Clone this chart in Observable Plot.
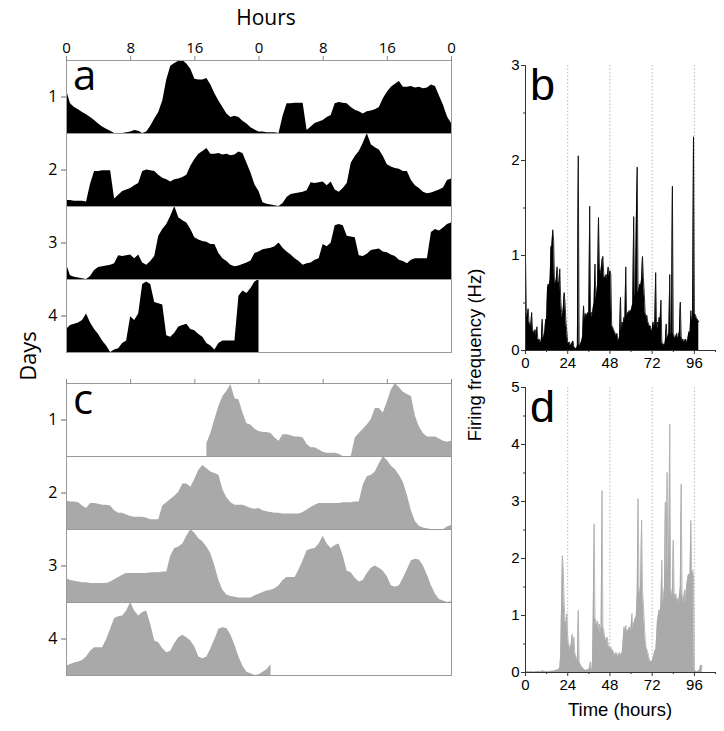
<!DOCTYPE html>
<html><head><meta charset="utf-8">
<script src="https://cdn.jsdelivr.net/npm/d3@7"></script>
<script src="https://cdn.jsdelivr.net/npm/@observablehq/plot@0.6"></script>
<style>
body{margin:0;background:#fff;}
#page{position:relative;width:724px;height:731px;overflow:hidden;background:#fff;}
.panel{position:absolute;}
</style></head><body>
<div id="page">
<div id="pa" class="panel" style="left:0;top:0"></div>
<div id="pc" class="panel" style="left:0;top:323px"></div>
<div id="pb" class="panel" style="left:460px;top:0"></div>
<div id="pd" class="panel" style="left:460px;top:360px"></div>
<svg width="724" height="731" style="position:absolute;left:0;top:0;pointer-events:none">
  <text x="266" y="25" text-anchor="middle" font-family="Open Sans" font-size="21">Hours</text>
  <text transform="translate(36,356) rotate(-90)" text-anchor="middle" font-family="Open Sans" font-size="22">Days</text>
  <text x="73" y="90" font-family="Open Sans" font-size="42">a</text>
  <text x="73" y="414" font-family="Open Sans" font-size="42">c</text>
  <text x="530" y="100" font-family="Liberation Sans, Arial, sans-serif" font-size="45">b</text>
  <text x="530" y="422" font-family="Liberation Sans, Arial, sans-serif" font-size="45">d</text>
  <text transform="translate(481,355) rotate(-90)" text-anchor="middle" font-family="Liberation Sans, Arial, sans-serif" font-size="18.5">Firing frequency (Hz)</text>
  <text x="620" y="716" text-anchor="middle" font-family="Liberation Sans, Arial, sans-serif" font-size="18.5">Time (hours)</text>
</svg>
</div>
<script>
// ---------- data (half-hour samples) ----------
const STEP = 0.5;
// panel a: smoothed activity, days 1-4 (arbitrary units)
const aDay1 = [0.66,0.47,0.42,0.39,0.35,0.32,0.28,0.24,0.19,0.15,0.12,0.09,
               0.06,0.06,0.06,0.07,0.08,0.10,0.09,0.06,0.08,0.16,0.26,0.35,
               0.51,0.80,0.99,1.03,1.06,1.07,1.02,0.95,0.81,0.80,0.80,0.82,
               0.73,0.61,0.51,0.42,0.33,0.28,0.30,0.28,0.23,0.19,0.14,0.11];
const aDay2 = [0.08,0.08,0.07,0.07,0.07,0.06,0.30,0.47,0.47,0.48,0.48,0.48,
               0.10,0.15,0.20,0.22,0.24,0.28,0.31,0.47,0.49,0.48,0.47,0.42,
               0.38,0.36,0.33,0.36,0.37,0.39,0.42,0.54,0.63,0.70,0.74,0.78,
               0.70,0.70,0.71,0.69,0.70,0.68,0.69,0.73,0.71,0.58,0.45,0.29];
const aDay3 = [0.20,0.05,0.03,0.02,0.01,0.00,0.04,0.12,0.16,0.17,0.18,0.19,
               0.21,0.32,0.31,0.32,0.33,0.28,0.33,0.22,0.19,0.24,0.31,0.58,
               0.67,0.74,0.85,0.98,0.83,0.79,0.76,0.67,0.56,0.53,0.51,0.50,
               0.47,0.47,0.35,0.28,0.24,0.19,0.17,0.18,0.20,0.22,0.25,0.35];
const aDay4 = [0.37,0.40,0.41,0.42,0.44,0.49,0.42,0.37,0.33,0.28,0.24,0.19,
               0.21,0.22,0.26,0.28,0.47,0.44,0.49,0.72,0.74,0.72,0.58,0.57,
               0.56,0.32,0.31,0.34,0.39,0.40,0.41,0.37,0.36,0.33,0.31,0.26,
               0.24,0.21,0.26,0.28,0.28,0.28,0.28,0.63,0.67,0.65,0.69,0.74,0.76];
// panel c: smoothed activity, starting at hour 17.5
const cStartHour = 17.5;
const cDay1 = [0.31,0.40,0.53,0.65,0.74,0.79,0.85,0.72,0.71,0.59,0.49,0.48,0.44];
const cDay2 = [0.42,0.41,0.41,0.40,0.36,0.33,0.39,0.39,0.38,0.37,0.37,0.36,
               0.30,0.27,0.27,0.25,0.23,0.22,0.22,0.22,0.21,0.19,0.19,0.19,
               0.36,0.40,0.44,0.48,0.53,0.63,0.63,0.59,0.69,0.80,0.86,0.82,
               0.78,0.76,0.74,0.56,0.46,0.40,0.37,0.37,0.37,0.35,0.33,0.32];
const cDay3 = [0.33,0.30,0.29,0.28,0.27,0.27,0.26,0.26,0.26,0.26,0.26,0.28,
               0.31,0.34,0.37,0.39,0.39,0.39,0.39,0.39,0.39,0.40,0.40,0.40,
               0.41,0.41,0.62,0.72,0.74,0.78,0.88,0.97,0.92,0.85,0.81,0.74,
               0.65,0.49,0.30,0.17,0.11,0.09,0.08,0.07,0.07,0.07,0.07,0.10];
const cDay4 = [0.12,0.14,0.16,0.17,0.19,0.23,0.30,0.34,0.34,0.34,0.44,0.56,
               0.69,0.71,0.72,0.78,0.88,0.78,0.72,0.76,0.78,0.62,0.42,0.40,
               0.33,0.28,0.30,0.39,0.46,0.49,0.46,0.42,0.35,0.23,0.21,0.23,
               0.33,0.44,0.56,0.58,0.57,0.49,0.37,0.23,0.12,0.05,0.03,0.01];
const cDay5 = [0.02,0.05,0.08,0.14];
// panel b: firing frequency (Hz), from hour 0
const bDay1 = [0.97,0.40,0.35,0.44,0.30,0.28,0.25,0.40,0.22,0.20,0.18,0.22,
               0.15,0.25,0.12,0.10,0.12,0.08,0.10,0.33,0.12,0.15,0.20,0.33,
               0.30,0.65,0.70,0.68,0.75,1.09,1.10,1.27,1.16,0.72,0.70,0.75,
               0.88,0.72,0.70,0.86,0.55,0.40,0.35,0.45,0.61,0.50,0.30,0.20];
const bDay2 = [0.08,0.07,0.09,0.05,0.06,0.08,0.10,0.04,0.03,0.02,0.02,0.05,
               2.05,0.06,0.05,0.08,0.10,0.15,0.47,0.30,0.39,0.35,0.38,0.40,
               0.36,1.52,0.38,0.40,0.35,0.45,0.50,0.91,0.53,0.60,0.70,1.40,
               0.91,0.85,0.80,0.95,0.99,0.80,0.75,0.78,0.80,0.75,0.88,0.78];
const bDay3 = [0.84,0.80,0.26,0.25,0.22,0.20,0.18,0.15,0.18,0.12,0.10,0.15,
               0.56,0.20,0.30,0.25,0.35,0.30,0.88,0.35,0.40,0.38,0.42,0.40,
               0.42,0.45,0.50,1.41,0.55,0.60,1.37,1.93,0.60,0.65,0.70,0.68,
               0.75,0.99,0.77,0.60,0.40,0.35,0.37,0.30,0.28,0.25,0.26,0.22];
const bDay4 = [0.20,0.30,0.25,0.28,0.82,0.25,0.30,0.22,0.35,0.30,0.53,0.10,
               0.05,0.07,0.04,0.10,0.28,0.12,0.15,0.18,0.80,0.15,0.20,1.73,
               0.18,0.15,0.12,0.15,0.18,0.12,0.15,0.20,0.51,0.15,0.10,0.12,
               0.08,0.10,0.12,0.10,0.08,0.15,0.20,0.15,0.42,0.30,0.35,2.25];
const bDay5 = [0.39,0.38,0.35,0.33,0.32,0.30];
// panel d: firing frequency (Hz), from hour 0
const dDay1 = [0.01,0.01,0.02,0.01,0.01,0.01,0.02,0.01,0.01,0.01,0.01,0.02,
               0.01,0.01,0.02,0.02,0.01,0.01,0.02,0.02,0.03,0.02,0.02,0.01,
               0.02,0.01,0.01,0.02,0.02,0.01,0.03,0.02,0.02,0.03,0.03,0.04,
               0.04,0.05,0.06,0.08,0.30,1.20,2.05,1.78,1.21,0.90,0.85,1.03];
const dDay2 = [0.60,0.51,0.45,0.40,0.50,0.67,0.45,0.62,0.35,0.30,0.25,0.20,
               1.09,0.20,0.15,0.12,0.10,0.08,0.06,0.05,0.04,0.03,0.05,0.04,
               0.05,0.10,0.19,0.05,0.04,1.00,2.61,0.95,0.92,0.80,0.90,0.75,
               0.85,0.70,0.80,3.19,0.80,0.75,0.62,0.60,0.55,0.62,0.50,0.45];
const dDay3 = [0.40,0.45,0.38,0.40,0.35,0.33,0.30,0.35,0.33,0.28,0.30,0.35,
               0.30,0.32,0.35,0.55,0.80,0.70,0.83,0.70,0.75,0.72,0.80,0.75,
               0.78,1.03,0.75,0.85,0.90,0.95,1.00,1.40,3.05,1.50,1.30,1.60,
               2.67,1.50,1.20,0.90,0.60,0.45,0.40,0.35,0.28,0.22,0.19,0.18];
const dDay4 = [0.20,0.25,0.30,0.39,0.35,0.60,0.90,1.00,1.10,1.03,1.20,1.97,
               1.20,1.30,1.50,2.99,1.60,3.51,1.73,2.30,4.36,1.50,1.40,1.35,
               2.32,1.40,1.30,1.38,1.25,1.30,1.20,1.35,1.50,3.31,1.40,1.20,
               1.30,1.45,1.20,1.50,1.60,1.70,1.73,1.65,2.67,1.75,1.79,1.70];
const dDay5 = [0.05,0.02,0.02,0.01,0.02,0.03,0.05,0.12,0.13,0.10];

const actoTicks = [0,8,16,24,32,40,48];
const dayLines = [24,48,72,96];
const timeTicks = [0,24,48,72,96];
const timeMinorTicks = [12,36,60,84,108];
const rowIds = [1,2,3,4];

// ---------- helpers ----------
function series(values, start) {
  return values.map((v, i) => ({t: start + i * STEP, v}));
}
// double-plotted actogram: row r shows hours (r-1)*24 .. (r-1)*24+48, min-max scaled per row
function actogram(pts) {
  const out = [];
  for (const r of rowIds) {
    const t0 = (r - 1) * 24, t1 = t0 + 48;
    const inRow = pts.filter(p => p.t >= t0 - 1e-9 && p.t <= t1 + 1e-9);
    if (!inRow.length) continue;
    const lo = d3.min(inRow, p => p.v), hi = d3.max(inRow, p => p.v);
    for (const p of inRow) out.push({row: r, h: p.t - t0, y: (p.v - lo) / (hi - lo)});
  }
  return out;
}
const aRows = actogram(series([...aDay1, ...aDay2, ...aDay3, ...aDay4], 0));
const cRows = actogram(series([...cDay1, ...cDay2, ...cDay3, ...cDay4, ...cDay5], cStartHour));
const bSeries = series([...bDay1, ...bDay2, ...bDay3, ...bDay4, ...bDay5], 0);
const dSeries = series([...dDay1, ...dDay2, ...dDay3, ...dDay4, ...dDay5], 0);

function actoPlot(rows, fill, labels) {
  return Plot.plot({
    width: 470, height: 360,
    marginLeft: 66, marginRight: 19, marginTop: 60, marginBottom: 8,
    style: {fontFamily: "Open Sans", fontSize: "15px", background: "transparent", color: "black"},
    x: {domain: [0, 48], axis: null},
    y: {domain: [0, 1], axis: null},
    fy: {domain: rowIds, padding: 0, axis: null},
    marks: [
      Plot.areaY(rows, {x: "h", y1: 0, y2: "y", fy: "row", fill, curve: "linear"}),
      Plot.frame({stroke: "#9a9a9a", strokeWidth: 1}),
      Plot.axisX({anchor: "top", ticks: actoTicks, tickSize: 5, tickPadding: 3, stroke: "#888",
                  tickFormat: labels ? (d => String(d % 24)) : (() => ""), label: null}),
      Plot.axisFy({anchor: "left", tickSize: 5, tickPadding: 4, stroke: "#666", fontSize: 16, label: null})
    ]
  });
}

function ratePlot(data, fill, yMax, h, mTop, mBottom) {
  const major = d3.range(0, yMax + 0.001, 1);
  const minor = d3.range(0.5, yMax, 1);
  return Plot.plot({
    width: 264, height: h,
    marginLeft: 65, marginRight: 9, marginTop: mTop, marginBottom: mBottom,
    style: {fontFamily: "Liberation Sans, Arial, sans-serif", fontSize: "15px", background: "transparent", color: "black"},
    x: {domain: [0, 108], axis: null},
    y: {domain: [0, yMax], axis: null},
    marks: [
      Plot.ruleX(dayLines, {stroke: "#b8b8b8", strokeDasharray: "1.5,2", strokeWidth: 1}),
      Plot.areaY(data, {x: "t", y1: 0, y2: "v", fill, curve: "linear"}),
      Plot.lineY(data, {x: "t", y: "v", stroke: fill, strokeWidth: 0.8}),
      Plot.ruleX([0], {stroke: "#333"}),
      Plot.ruleY([0], {stroke: "#333"}),
      Plot.axisY({ticks: major, tickSize: 4, tickPadding: 2, stroke: "#333", tickFormat: d => String(d), label: null}),
      Plot.axisY({ticks: minor, tickSize: 2, stroke: "#333", tickFormat: () => "", label: null}),
      Plot.axisX({ticks: timeTicks, tickSize: 4, tickPadding: 3, stroke: "#333", tickFormat: d => String(d), label: null}),
      Plot.axisX({ticks: timeMinorTicks, tickSize: 2, stroke: "#333", tickFormat: () => "", label: null})
    ]
  });
}

document.getElementById("pa").append(actoPlot(aRows, "black", true));
document.getElementById("pc").append(actoPlot(cRows, "#a9a9a9", false));
document.getElementById("pb").append(ratePlot(bSeries, "black", 3, 375, 65, 25));
document.getElementById("pd").append(ratePlot(dSeries, "#aaaaaa", 5, 340, 27, 28));
</script>
</body></html>
